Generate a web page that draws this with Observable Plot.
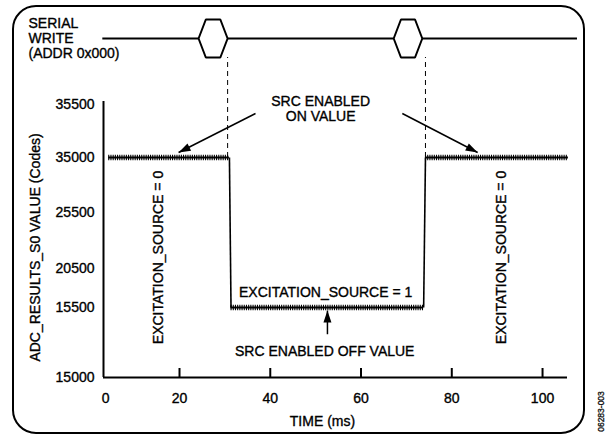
<!DOCTYPE html>
<html><head><meta charset="utf-8">
<script src="https://cdn.jsdelivr.net/npm/d3@7"></script>
<script src="https://cdn.jsdelivr.net/npm/@observablehq/plot@0.6"></script>
<style>
body{margin:0;background:#fff;}
#wrap{position:relative;width:605px;height:434px;overflow:hidden;font-family:"Liberation Sans",Arial,sans-serif;}
#box{position:absolute;left:12px;top:5px;width:573px;height:429px;border:2px solid #000;border-radius:24px;box-sizing:border-box;}
#main,#serial{position:absolute;left:0;top:0;}
#wrap svg text{stroke:#000;stroke-width:0.35px;}
</style></head><body>
<div id="wrap"><div id="box"></div><div id="main"></div><div id="serial"></div></div>
<script>
// ---- data ----
const yTicks = [15000, 15500, 20500, 25500, 35000, 35500];
const xTicks = [0, 20, 40, 60, 80, 100];
const segStart = [4.4, 31.35, 74.2];
const segEnd = [31.0, 73.8, 105.7];
const segValue = [35000, 15500, 35000];
const stepTimes = [30.6, 74.2];
const writeStart = [24.2, 67.2];
const writeEnd = [30.6, 73.5];
const busStart = 3.1, busEnd = 107.7;
const arrowX1 = [36.75, 69.1, 52.6];
const arrowY1 = [35415, 35415, 15309];
const arrowX2 = [19.8, 85.7, 52.6];
const arrowY2 = [35047, 35047, 15478];
const notes = [
  {text: "SRC ENABLED\nON VALUE", x: 51.1, y: 35462, rotate: 0},
  {text: "EXCITATION_SOURCE = 1", x: 52.2, y: 17423, rotate: 0},
  {text: "SRC ENABLED OFF VALUE", x: 52.0, y: 15186, rotate: 0},
  {text: "EXCITATION_SOURCE = 0", x: 15.4, y: 21482, rotate: -90},
  {text: "EXCITATION_SOURCE = 0", x: 91.0, y: 21482, rotate: -90}
];

// ---- layout ----
const W = 605, H = 434;
const font = {fontFamily: "'Liberation Sans', Arial, sans-serif", fontSize: "14px", color: "#000", background: "transparent", overflow: "visible"};
const xOpts = {domain: [3.25, 105.5], range: [103, 567], axis: null};
const yOpts = {type: "linear", domain: yTicks, range: [377, 307, 268, 212, 157, 104]};
const ySerOpts = {domain: [-1, 1], range: [57, 19], axis: null};
const yS = Plot.scale({y: {type: yOpts.type, domain: yOpts.domain, range: yOpts.range}});
const ySer = Plot.scale({y: {domain: ySerOpts.domain, range: ySerOpts.range}});
const dashTop = yS.invert(ySer.apply(-1));
const axisTop = yS.invert(101);
const tickTop = yS.invert(yS.apply(yTicks[0]) - 9);
const x0 = xOpts.domain[0];

const segs = segStart.map((s, i) => ({x1: s, x2: segEnd[i], y: segValue[i]}));
const trans = segs.slice(1).map((s, i) => ({x1: segs[i].x2, y1: segs[i].y, x2: s.x1, y2: s.y}));
const arrows = arrowX1.map((v, i) => ({x1: v, y1: arrowY1[i], x2: arrowX2[i], y2: arrowY2[i]}));

const main = Plot.plot({
  width: W, height: H, marginLeft: 103, marginRight: 38, marginTop: 101, marginBottom: 56,
  style: font,
  x: xOpts, y: yOpts,
  marks: [
    Plot.axisY({ticks: yTicks, tickSize: 0, tickPadding: 9, tickFormat: d => String(d), label: null, fontSize: 14}),
    Plot.ruleX([x0], {y1: yTicks[0], y2: axisTop, strokeWidth: 2}),
    Plot.ruleY([yTicks[0]], {x1: x0, x2: xOpts.domain[1], strokeWidth: 2}),
    Plot.ruleX(xTicks.filter(d => d > 0), {x: d => d, y1: yTicks[0], y2: tickTop, strokeWidth: 2}),
    Plot.text(xTicks, {x: d => Math.max(d, x0 + 0.45), y: yTicks[0], dy: 21, text: d => String(d), fontSize: 14}),
    Plot.text(["TIME (ms)"], {x: 51.5, y: yTicks[0], dy: 44, fontSize: 14}),
    Plot.text(["ADC_RESULTS_S0 VALUE (Codes)"], {frameAnchor: "left", y: 22375, dx: -68, rotate: -90, textAnchor: "middle", fontSize: 14}),
    Plot.text(["06283-003"], {frameAnchor: "right", y: yTicks[0], dx: 34, dy: 34, rotate: -90, textAnchor: "middle", fontSize: 8.5, fill: "#333"}),
    Plot.ruleX(stepTimes, {x: d => d, y1: 35000, y2: dashTop, strokeWidth: 1, strokeDasharray: "5,4"}),
    Plot.link(trans, {x1: "x1", y1: "y1", x2: "x2", y2: "y2", strokeWidth: 1.6}),
    Plot.ruleY(segs, {x1: "x1", x2: "x2", y: "y", strokeWidth: 1.8}),
    Plot.ruleY(segs, {x1: "x1", x2: "x2", y: "y", strokeWidth: 5.5, strokeDasharray: "1.1,1.1"}),
    Plot.link(arrows, {x1: "x1", y1: "y1", x2: "x2", y2: "y2", strokeWidth: 1.5, markerEnd: "arrow"}),
    Plot.text(notes, {x: "x", y: "y", text: "text", rotate: "rotate", fontSize: 14, lineHeight: 1.05})
  ]
});
d3.select(main).selectAll("marker").attr("overflow", "visible")
  .selectAll("path").attr("d", "M-12,-4L0,0L-12,4Z").attr("fill", "#000").attr("stroke", "none");
document.getElementById("main").appendChild(main);

// serial write row
const gapStarts = [busStart, ...writeEnd];
const gapEnds = [...writeStart, busEnd];
const gaps = gapStarts.map((s, i) => ({x1: s, x2: gapEnds[i]}));
const edge = 1.6;
const hex = writeStart.flatMap((s, i) => {
  const e = writeEnd[i];
  return [[s, 0], [s + edge, 1], [e - edge, 1], [e, 0], [e - edge, -1], [s + edge, -1], [s, 0]]
    .map(([x, y]) => ({x, y, id: i}));
});
const serial = Plot.plot({
  width: W, height: 70, marginLeft: 103, marginRight: 38, marginTop: 19, marginBottom: 13,
  style: font,
  x: xOpts, y: ySerOpts,
  marks: [
    Plot.ruleY(gaps, {x1: "x1", x2: "x2", y: 0, strokeWidth: 2}),
    Plot.line(hex, {x: "x", y: "y", z: "id", strokeWidth: 2, strokeLinejoin: "miter"}),
    Plot.text(["SERIAL\nWRITE\n(ADDR 0x000)"], {frameAnchor: "left", y: 0, dx: -75, textAnchor: "start", lineAnchor: "middle", lineHeight: 15 / 14, fontSize: 14})
  ]
});
document.getElementById("serial").appendChild(serial);
</script>
</body></html>
